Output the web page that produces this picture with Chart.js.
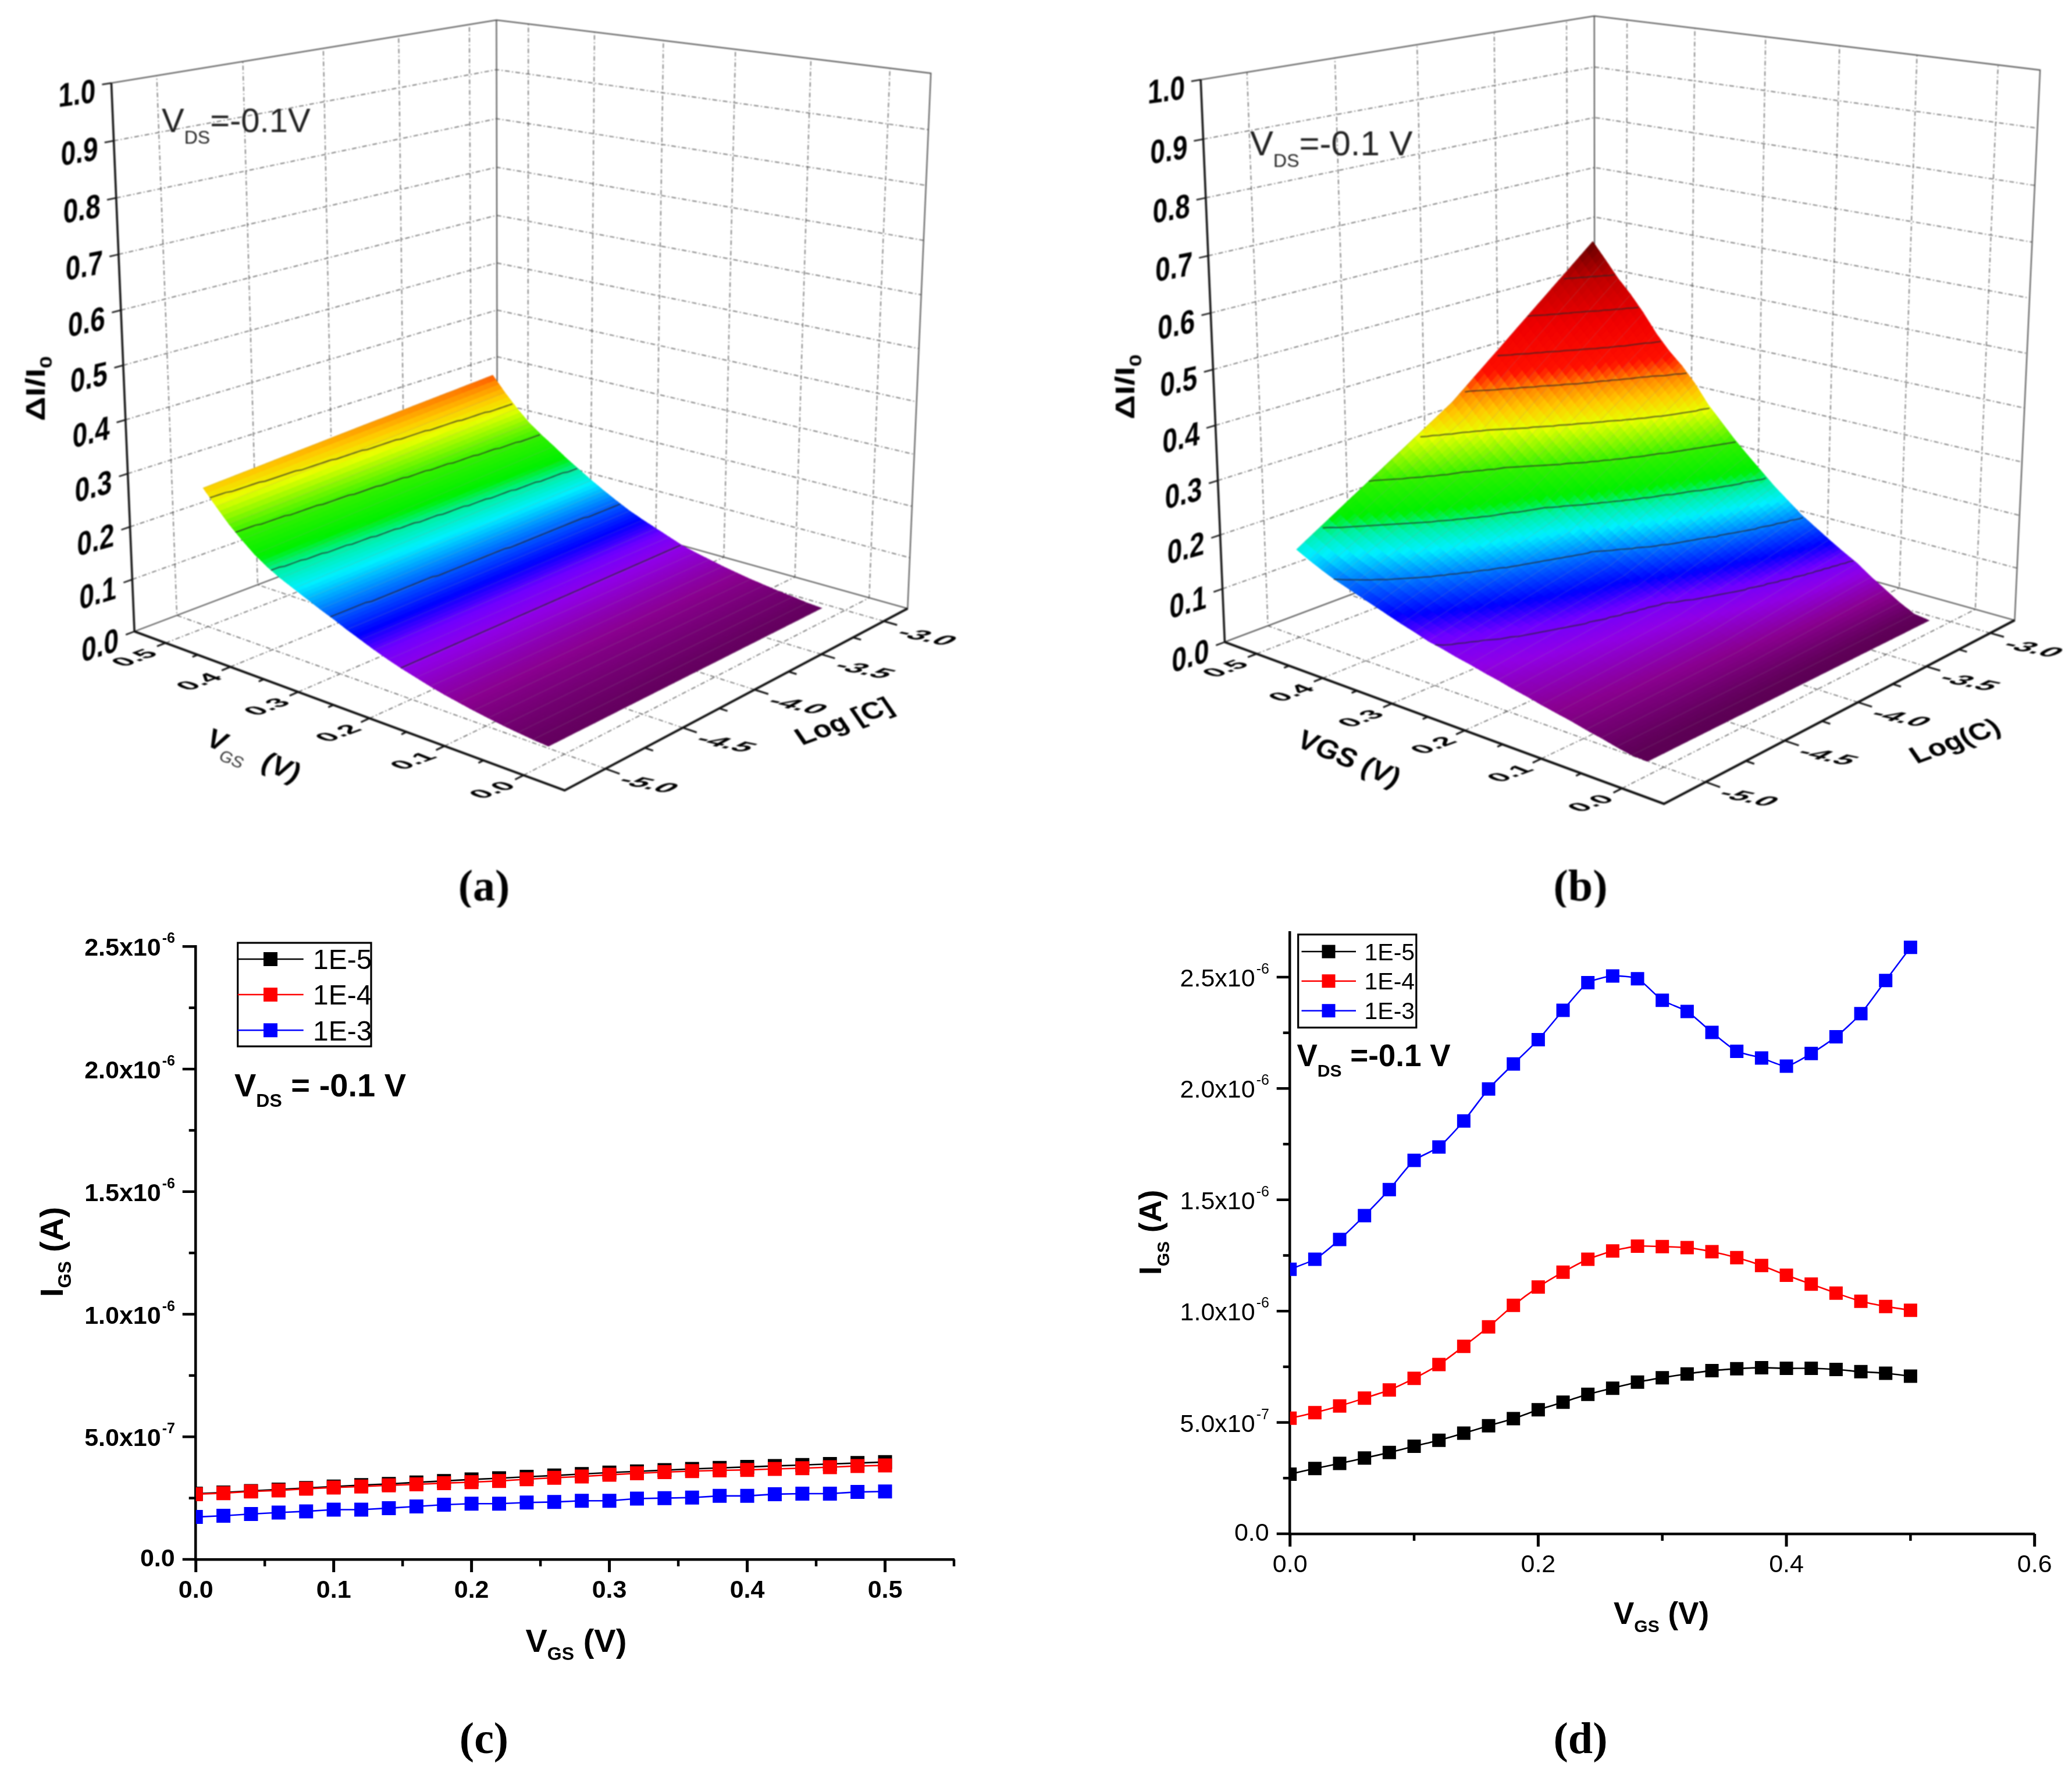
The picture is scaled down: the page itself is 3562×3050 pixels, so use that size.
<!DOCTYPE html>
<html>
<head>
<meta charset="utf-8">
<title>Delta I / I0 surfaces and IGS curves</title>
<script src="https://cdn.jsdelivr.net/npm/chart.js@4/dist/chart.umd.min.js"></script>
<style>
  html, body { margin: 0; padding: 0; background: #fff; }
  #page { position: relative; width: 3562px; height: 3050px; overflow: hidden; }
  canvas { position: absolute; }
  canvas.soft { filter: blur(0.8px); }
</style>
</head>
<body>
<div id="page">
  <canvas id="pa" class="soft" width="1780" height="1560" style="left:0;top:0"></canvas>
  <canvas id="pb" class="soft" width="1782" height="1560" style="left:1780px;top:0"></canvas>
  <canvas id="pc" width="1780" height="1490" style="left:0;top:1560px"></canvas>
  <canvas id="pd" width="1782" height="1490" style="left:1780px;top:1560px"></canvas>
</div>
<script>
// ---- data ----
const VGS_POINTS = [0,.02,.04,.06,.08,.1,.12,.14,.16,.18,.2,.22,.24,.26,.28,.3,.32,.34,.36,.38,.4,.42,.44,.46,.48,.5];
const LOG_NODES = [-5, -4, -3];

// panel (a), dI/I0 at log C = -5, -4, -3
const SURF_A_M5 = [.004,.006,.009,.012,.016,.02,.025,.03,.036,.043,.05,.058,.067,.077,.087,.098,.108,.119,.13,.141,.154,.17,.19,.212,.238,.265];
const SURF_A_M4 = [.004,.006,.01,.013,.017,.02,.025,.03,.036,.043,.05,.059,.068,.078,.089,.101,.113,.126,.139,.153,.168,.185,.204,.226,.254,.283];
const SURF_A_M3 = [.004,.006,.01,.013,.017,.021,.026,.031,.037,.043,.05,.06,.07,.08,.091,.104,.118,.133,.149,.165,.183,.2,.219,.243,.27,.3];
const CONTOURS_A = [.05,.1,.15,.2,.25];

// panel (b)
const SURF_B_M5 = [0,.001,.006,.012,.017,.023,.028,.033,.039,.044,.05,.055,.061,.066,.072,.077,.085,.092,.1,.108,.116,.124,.132,.142,.153,.165];
const SURF_B_M4 = [0,.002,.01,.019,.028,.037,.046,.055,.064,.072,.083,.094,.105,.116,.128,.143,.158,.175,.193,.212,.231,.25,.27,.295,.32,.345];
const SURF_B_M3 = [0,.004,.018,.035,.052,.071,.086,.102,.119,.136,.157,.178,.202,.226,.251,.279,.307,.342,.371,.395,.424,.459,.49,.517,.549,.58];
const CONTOURS_B = [.074,.132,.19,.246,.3,.359,.41,.468,.523];

// panels (c), (d): IGS in units of 1e-6 A
const C_1E5 = [.268,.273,.279,.285,.291,.297,.303,.308,.314,.32,.326,.331,.337,.342,.348,.354,.359,.364,.369,.373,.377,.381,.385,.389,.393,.397];
const C_1E4 = [.266,.27,.277,.281,.288,.293,.297,.302,.306,.311,.315,.32,.327,.333,.338,.345,.351,.356,.36,.363,.365,.369,.372,.376,.381,.383];
const C_1E3 = [.173,.178,.185,.191,.196,.203,.203,.209,.216,.223,.227,.227,.232,.234,.239,.239,.248,.25,.252,.259,.259,.266,.268,.268,.275,.277];
const D_1E5 = [.268,.293,.316,.34,.365,.393,.42,.452,.485,.517,.557,.591,.626,.654,.681,.701,.718,.733,.741,.746,.743,.743,.738,.728,.721,.708];
const D_1E4 = [.519,.544,.574,.609,.646,.698,.76,.842,.929,1.026,1.108,1.175,1.233,1.27,1.292,1.29,1.285,1.267,1.24,1.205,1.161,1.121,1.081,1.044,1.021,1.004];
const D_1E3 = [1.188,1.233,1.322,1.429,1.546,1.677,1.737,1.854,1.998,2.11,2.219,2.351,2.475,2.505,2.493,2.396,2.346,2.252,2.167,2.137,2.1,2.157,2.232,2.336,2.485,2.634];
const SERIES_NAMES = ['1E-5', '1E-4', '1E-3'];
const SERIES_COLORS = ['#000000', '#ff0000', '#0000ff'];

const Z_TICKS = [0,.1,.2,.3,.4,.5,.6,.7,.8,.9,1];
const VGS_TICKS = [0,.1,.2,.3,.4,.5];
const VGS_MINOR = [.05,.15,.25,.35,.45];
const LOG_TICKS = [-5,-4.5,-4,-3.5,-3];
const LOG_MINOR = [-4.75,-4.25,-3.75,-3.25];

// colour scale of the surfaces, as a fraction of the panel's top value
const RAINBOW = [[0,'#5c0054'],[.052,'#8a0090'],[.103,'#9000e6'],[.138,'#7000ff'],[.172,'#0000ff'],[.224,'#0070ff'],
  [.276,'#00f0ff'],[.319,'#00f0a0'],[.353,'#00f000'],[.422,'#30f000'],[.517,'#e8ff00'],[.569,'#ffc800'],[.62,'#ff8000'],
  [.664,'#ff1000'],[.776,'#f00000'],[.897,'#c00000'],[1,'#640000']];

// ---- helpers ----
const FAMILY = '"Liberation Sans", Arial, sans-serif';
const fontOf = (r) => (r.bold ? 'bold ' : '') + r.size + 'px ' + FAMILY;

// draws runs of text (for subscripts) from the current origin
function runsAt(ctx, runs, x, y) {
  for (const r of runs) {
    ctx.font = fontOf(r);
    ctx.fillStyle = r.color || '#000';
    ctx.fillText(r.t, x, y + (r.dy || 0));
    x += ctx.measureText(r.t).width;
  }
  return x;
}
function runsWidth(ctx, runs) {
  let w = 0;
  for (const r of runs) { ctx.font = fontOf(r); w += ctx.measureText(r.t).width; }
  return w;
}
// text in a skewed plane; anchor is centre or right of the first run's mid height
function skewText(ctx, runs, x, y, ex, ey, align) {
  ctx.save();
  ctx.transform(ex[0], ex[1], ey[0], ey[1], x, y);
  ctx.textAlign = 'left';
  ctx.textBaseline = 'alphabetic';
  const w = runsWidth(ctx, runs);
  const sx = align === 'right' ? -w : -w / 2;
  runsAt(ctx, runs, sx, runs[0].size * 0.36);
  ctx.restore();
}
function caption(ctx, t, x, y) {
  ctx.save();
  ctx.font = 'bold 76px "Liberation Serif", serif';
  ctx.fillStyle = '#000';
  ctx.textAlign = 'center';
  ctx.textBaseline = 'alphabetic';
  ctx.fillText(t, x, y);
  ctx.restore();
}

// ---- 3D projection of the box, solved from where its corners lie on the panel ----
function solveCamera(c) {
  const pts = [[0,0,0,c.L],[1,0,0,c.F],[1,1,0,c.R],[0,1,0,c.B],[0,0,1,c.Lt],[0,1,1,c.Bt],[1,1,1,c.Rt]];
  const A = [], b = [];
  for (const [u, v, z, p] of pts) {
    const X = p[0] / 1000, Y = p[1] / 1000;
    A.push([u,v,z,1,0,0,0,0,-X*u,-X*v,-X*z]); b.push(X);
    A.push([0,0,0,0,u,v,z,1,-Y*u,-Y*v,-Y*z]); b.push(Y);
  }
  const n = 11;
  const M = [];
  for (let i = 0; i < n; i++) {
    const row = [];
    for (let j = 0; j < n; j++) row.push(A.reduce((s, r) => s + r[i] * r[j], 0));
    row.push(A.reduce((s, r, k) => s + r[i] * b[k], 0));
    M.push(row);
  }
  for (let i = 0; i < n; i++) {
    let best = i;
    for (let k = i + 1; k < n; k++) if (Math.abs(M[k][i]) > Math.abs(M[best][i])) best = k;
    [M[i], M[best]] = [M[best], M[i]];
    for (let k = 0; k < n; k++) {
      if (k === i) continue;
      const f = M[k][i] / M[i][i];
      for (let j = i; j <= n; j++) M[k][j] -= f * M[i][j];
    }
  }
  const p = M.map((r, i) => r[n] / r[i]);
  return (u, v, z) => {
    const w = p[8]*u + p[9]*v + p[10]*z + 1;
    return { x: 1000 * (p[0]*u + p[1]*v + p[2]*z + p[3]) / w,
             y: 1000 * (p[4]*u + p[5]*v + p[6]*z + p[7]) / w };
  };
}

const V_MAX = .55, V_MIN = -.05, C_MIN = -5.25, C_MAX = -2.8;

function rainbow(frac) {
  frac = Math.max(0, Math.min(1, frac));
  let i = 1;
  while (i < RAINBOW.length - 1 && RAINBOW[i][0] < frac) i++;
  const [f0, c0] = RAINBOW[i - 1], [f1, c1] = RAINBOW[i];
  const t = (frac - f0) / (f1 - f0);
  const ch = (c, k) => parseInt(c.substr(1 + 2 * k, 2), 16);
  return 'rgb(' + [0, 1, 2].map(k => Math.round(ch(c0, k) + (ch(c1, k) - ch(c0, k)) * t)).join(',') + ')';
}

function surfacePanel(id, cfg) {
  const cam = solveCamera(cfg.corners);
  const P = (V, C, z) => cam((V_MAX - V) / (V_MAX - V_MIN), (C - C_MIN) / (C_MAX - C_MIN), z);
  const cols = cfg.columns;
  const lerpRow = (col, V) => {
    const s = (V - VGS_POINTS[0]) / (VGS_POINTS[VGS_POINTS.length - 1] - VGS_POINTS[0]) * (VGS_POINTS.length - 1);
    const i = Math.min(VGS_POINTS.length - 2, Math.floor(s));
    return col[i] + (col[i + 1] - col[i]) * (s - i);
  };
  const zAt = (V, C) => {
    const s = Math.max(0, Math.min(LOG_NODES.length - 1.000001, C - LOG_NODES[0]));
    const j = Math.floor(s);
    return lerpRow(cols[j], V) + (lerpRow(cols[j + 1], V) - lerpRow(cols[j], V)) * (s - j);
  };
  const vShift = cfg.vShift, cEnd = cfg.cEnd;
  // the surface sits slightly inside the nominal VGS / log C corners
  const mapV = (V) => vShift + V * (.5 - vShift) / .5;
  const mapC = (C) => -5 + (C + 5) * (cEnd + 5) / 2;

  const line = (data, color, width, dash, order) => ({
    data, showLine: true, pointRadius: 0, borderColor: color, borderWidth: width,
    borderDash: dash || [], order, tension: 0, clip: false, fill: false,
  });
  const GRID = '#585858', DASH = [8, 4, 2, 4];
  const sets = [];

  // dashed box grid
  for (const z of Z_TICKS.slice(1, -1)) {
    sets.push(line([P(V_MAX, C_MIN, z), P(V_MAX, C_MAX, z), P(V_MIN, C_MAX, z)], GRID, 1.5, DASH, 9));
  }
  for (const C of LOG_TICKS) {
    sets.push(line([P(V_MIN, C, 0), P(V_MAX, C, 0), P(V_MAX, C, 1)], GRID, 1.5, DASH, 9));
  }
  for (const V of VGS_TICKS) {
    sets.push(line([P(V, C_MIN, 0), P(V, C_MAX, 0), P(V, C_MAX, 1)], GRID, 1.5, DASH, 9));
  }
  // solid box edges
  sets.push(line([P(V_MAX, C_MIN, 1), P(V_MAX, C_MAX, 1), P(V_MIN, C_MAX, 1), P(V_MIN, C_MAX, 0), P(V_MAX, C_MAX, 0)], '#4a4a4a', 2, null, 8));
  sets.push(line([P(V_MAX, C_MIN, 0), P(V_MAX, C_MAX, 0), P(V_MAX, C_MAX, 1)], '#4a4a4a', 2, null, 8));
  sets.push(line([P(V_MAX, C_MIN, 0), P(V_MAX, C_MIN, 1)], '#111', 3.5, null, 1));
  sets.push(line([P(V_MAX, C_MIN, 0), P(V_MIN, C_MIN, 0), P(V_MIN, C_MAX, 0)], '#111', 4, null, 1));

  // surface nodes; the painter below fills the mesh between them
  const nodes = [];
  VGS_POINTS.forEach((V, i) => LOG_NODES.forEach((C, j) => nodes.push(P(mapV(V), mapC(C), cols[j][i]))));
  const surfaceSet = { data: nodes, pointRadius: 0, showLine: false, order: 5, clip: false };
  sets.push(surfaceSet);

  // contour lines
  for (const level of cfg.contours) {
    const pts = [];
    for (let k = 0; k <= 80; k++) {
      const C = -5 + 2 * k / 80;
      let prev = zAt(0, C);
      for (let i = 1; i <= 200; i++) {
        const V = .5 * i / 200, cur = zAt(V, C);
        if (prev <= level && cur > level) { pts.push(P(mapV(V), mapC(C), level)); break; }
        prev = cur;
      }
    }
    sets.push(line(pts, 'rgba(40,40,40,.78)', 2, null, 3));
  }

  // ticks
  for (const z of Z_TICKS) sets.push(line([P(V_MAX, C_MIN, z), P(V_MAX, C_MIN - .05, z)], '#111', 2.5, null, 1));
  for (const V of VGS_TICKS) sets.push(line([P(V, C_MIN, 0), P(V, C_MIN - .05, 0)], '#111', 3, null, 1));
  for (const V of VGS_MINOR) sets.push(line([P(V, C_MIN, 0), P(V, C_MIN - .03, 0)], '#111', 3, null, 1));
  for (const C of LOG_TICKS) sets.push(line([P(V_MIN, C, 0), P(V_MIN - .017, C, 0)], '#111', 3, null, 1));
  for (const C of LOG_MINOR) sets.push(line([P(V_MIN, C, 0), P(V_MIN - .01, C, 0)], '#111', 3, null, 1));

  const canvas = document.getElementById(id);
  const surfaceIndex = sets.indexOf(surfaceSet);

  const painter = {
    id: 'surfacePainter',
    afterDatasetDraw(chart, args) {
      if (args.index !== surfaceIndex) return;
      const ctx = chart.ctx, sx = chart.scales.x, sy = chart.scales.y;
      const px = (V, C, z) => { const q = P(mapV(V), mapC(C), z); return [sx.getPixelForValue(q.x), sy.getPixelForValue(q.y)]; };
      const NV = 100, NC = 40;
      ctx.save();
      ctx.lineWidth = 1.3;
      for (let i = 0; i < NV; i++) {
        const V0 = .5 * i / NV, V1 = .5 * (i + 1) / NV;
        for (let j = 0; j < NC; j++) {
          const C0 = -5 + 2 * j / NC, C1 = -5 + 2 * (j + 1) / NC;
          const z00 = zAt(V0, C0), z01 = zAt(V0, C1), z10 = zAt(V1, C0), z11 = zAt(V1, C1);
          const col = rainbow((z00 + z01 + z10 + z11) / 4 / cfg.zTop);
          const a = px(V0, C0, z00), b = px(V0, C1, z01), c = px(V1, C1, z11), d = px(V1, C0, z10);
          ctx.beginPath();
          ctx.moveTo(a[0], a[1]); ctx.lineTo(b[0], b[1]); ctx.lineTo(c[0], c[1]); ctx.lineTo(d[0], d[1]);
          ctx.closePath();
          ctx.fillStyle = col; ctx.strokeStyle = col;
          ctx.fill(); ctx.stroke();
        }
      }
      // faint streaks on the surface
      ctx.lineWidth = 1.2;
      ctx.strokeStyle = 'rgba(150,150,150,.22)';
      for (let i = 0; i < VGS_POINTS.length; i += 1) {
        ctx.beginPath();
        LOG_NODES.forEach((C, j) => {
          const q = px(VGS_POINTS[i], C, cols[j][i]);
          if (j === 0) ctx.moveTo(q[0], q[1]); else ctx.lineTo(q[0], q[1]);
        });
        ctx.stroke();
      }
      ctx.restore();
    },
    afterDraw(chart) {
      const ctx = chart.ctx, sx = chart.scales.x, sy = chart.scales.y;
      const at = (q) => [sx.getPixelForValue(q.x), sy.getPixelForValue(q.y)];
      // z tick labels lie in the left wall
      for (const z of Z_TICKS) {
        const a = P(V_MAX, C_MIN, z), b = P(V_MAX, C_MIN + .3, z);
        const slope = (b.y - a.y) / (b.x - a.x) * .85;
        const [x, y] = at(a);
        skewText(ctx, [{ t: z.toFixed(1), size: 46, bold: true }], x - 27, y + 12, [1, slope], [-.03, 1.25], 'right');
      }
      for (const V of VGS_TICKS) {
        const [x, y] = at(P(V, C_MIN, 0));
        skewText(ctx, [{ t: V.toFixed(1), size: 42, bold: true }], x - 55, y + 25, [1.05, -.38], [.9, .36], 'center');
      }
      for (const C of LOG_TICKS) {
        const [x, y] = at(P(V_MIN, C, 0));
        skewText(ctx, [{ t: C.toFixed(1), size: 40, bold: true }], x + 75, y + 26, [1.3, .27], [-.92, .5], 'center');
      }
      for (const t of cfg.floorTitles) skewText(ctx, t.runs, t.x, t.y, t.ex, t.ey, 'center');

      // dI/I0 title
      ctx.save();
      ctx.translate(cfg.zTitle.x, cfg.zTitle.y);
      ctx.rotate(-Math.PI / 2);
      ctx.scale(1.27, 1);
      ctx.textAlign = 'left';
      ctx.textBaseline = 'alphabetic';
      runsAt(ctx, [{ t: '\u0394I/I', size: 46, bold: true }, { t: '0', size: 30, bold: true, dy: 12 }], 0, 0);
      ctx.restore();

      // VDS note
      ctx.save();
      ctx.textAlign = 'left';
      ctx.textBaseline = 'alphabetic';
      runsAt(ctx, cfg.note.runs, cfg.note.x, cfg.note.y);
      ctx.restore();
      caption(ctx, cfg.caption.t, cfg.caption.x, cfg.caption.y);
    },
  };

  return new Chart(canvas, {
    type: 'scatter',
    data: { datasets: sets },
    options: {
      responsive: false, animation: false, devicePixelRatio: 1, events: [],
      layout: { padding: 0 },
      plugins: { legend: { display: false }, tooltip: { enabled: false } },
      scales: {
        x: { type: 'linear', display: false, min: 0, max: canvas.width },
        y: { type: 'linear', display: false, min: 0, max: canvas.height, reverse: true },
      },
    },
    plugins: [painter],
  });
}

function xyPanel(id, cfg) {
  const canvas = document.getElementById(id);
  const sets = cfg.series.map((vals, i) => ({
    label: SERIES_NAMES[i],
    data: vals.map((y, k) => ({ x: VGS_POINTS[k], y })),
    showLine: true,
    borderColor: SERIES_COLORS[i], backgroundColor: SERIES_COLORS[i],
    borderWidth: 2.6, tension: cfg.tension,
    pointStyle: 'rect', pointRadius: cfg.marker / Math.SQRT2, pointBorderWidth: 0,
    order: 3 - i,
  }));
  const axisPlugin = {
    id: 'originAxes',
    afterDraw(chart) {
      const ctx = chart.ctx, sx = chart.scales.x, sy = chart.scales.y;
      const x0 = chart.chartArea.left, y0 = chart.chartArea.bottom;
      ctx.save();
      ctx.strokeStyle = '#000';
      ctx.fillStyle = '#000';
      ctx.lineCap = 'butt';
      for (const t of sx.ticks) {
        const major = cfg.xMajor(t.value);
        const p = sx.getPixelForValue(t.value);
        ctx.lineWidth = major ? 5 : 4.5;
        ctx.beginPath(); ctx.moveTo(p, y0); ctx.lineTo(p, y0 + (major ? 22 : 12)); ctx.stroke();
      }
      ctx.textBaseline = 'alphabetic';
      for (const t of sy.ticks) {
        const major = Math.round(t.value * 100) % 50 === 0;
        const p = sy.getPixelForValue(t.value);
        ctx.lineWidth = 4.5;
        ctx.beginPath(); ctx.moveTo(x0, p); ctx.lineTo(x0 - (major ? 23 : 12), p); ctx.stroke();
        if (!major) continue;
        const mono = cfg.bold ? 'bold ' : '';
        if (t.value === 0) {
          ctx.textAlign = 'right';
          ctx.font = mono + '43px ' + FAMILY;
          ctx.fillText('0.0', x0 - 36, p + 12);
        } else {
          const small = t.value < 1;
          ctx.textAlign = 'right';
          ctx.font = mono + '43px ' + FAMILY;
          ctx.fillText((small ? t.value * 10 : t.value).toFixed(1) + 'x10', x0 - 60, p + 16);
          ctx.textAlign = 'left';
          ctx.font = mono + '25px ' + FAMILY;
          ctx.fillText(small ? '-7' : '-6', x0 - 58, p - 6);
        }
      }
      // axis titles
      ctx.textAlign = 'left';
      const big = cfg.titleSize, sub = cfg.titleSub;
      runsAt(ctx, [{ t: 'V', size: big, bold: true }, { t: 'GS', size: sub, bold: true, dy: 14 }, { t: ' (V)', size: big, bold: true }], cfg.xTitle[0], cfg.xTitle[1]);
      ctx.save();
      ctx.translate(cfg.yTitle[0], cfg.yTitle[1]);
      ctx.rotate(-Math.PI / 2);
      runsAt(ctx, [{ t: 'I', size: big, bold: true }, { t: 'GS', size: sub, bold: true, dy: 14 }, { t: ' (A)', size: big, bold: true }], 0, 0);
      ctx.restore();
      // legend
      const L = cfg.legend;
      ctx.lineWidth = 3.2;
      ctx.strokeRect(L.x0, L.y0, L.x1 - L.x0, L.y1 - L.y0);
      ctx.font = L.font + 'px ' + FAMILY;
      SERIES_NAMES.forEach((name, i) => {
        const y = L.rows[i];
        ctx.strokeStyle = SERIES_COLORS[i];
        ctx.lineWidth = 2.6;
        ctx.beginPath(); ctx.moveTo(L.lineFrom, y); ctx.lineTo(L.lineTo, y); ctx.stroke();
        ctx.fillStyle = SERIES_COLORS[i];
        ctx.fillRect(L.mark - cfg.marker / 2, y - cfg.marker / 2, cfg.marker, cfg.marker);
        ctx.fillStyle = '#000';
        ctx.fillText(name, L.text, y + L.font * .36);
      });
      // VDS note
      runsAt(ctx, cfg.note.runs, cfg.note.x, cfg.note.y);
      caption(ctx, cfg.caption.t, cfg.caption.x, cfg.caption.y);
      ctx.restore();
    },
  };
  return new Chart(canvas, {
    type: 'scatter',
    data: { datasets: sets },
    options: {
      responsive: false, animation: false, devicePixelRatio: 1, events: [],
      layout: { padding: cfg.padding },
      plugins: { legend: { display: false }, tooltip: { enabled: false } },
      scales: {
        x: {
          type: 'linear', min: cfg.xMin, max: cfg.xMax,
          grid: { drawOnChartArea: false, drawTicks: false },
          border: { display: true, width: 4.5, color: '#000' },
          // the band under the plot is fixed, so the plot area stays where it belongs
          afterFit(s) { s.height = cfg.bottomBand; },
          ticks: {
            stepSize: cfg.xStep, autoSkip: false, maxRotation: 0, color: '#000', padding: cfg.xLabelPad,
            font: { family: FAMILY, size: 43, weight: cfg.bold ? 'bold' : 'normal' },
            callback: (v) => cfg.xLabelled(v) ? v.toFixed(1) : '',
          },
        },
        y: {
          type: 'linear', min: 0, max: cfg.yMax,
          grid: { drawOnChartArea: false, drawTicks: false },
          border: { display: true, width: 4.5, color: '#000' },
          ticks: { display: false, stepSize: .25, includeBounds: false },
        },
      },
    },
    plugins: [axisPlugin],
  });
}

// ---- panels ----
surfacePanel('pa', {
  columns: [SURF_A_M5, SURF_A_M4, SURF_A_M3], contours: CONTOURS_A, zTop: .47, vShift: .02, cEnd: -3.07,
  corners: { L: [232,1087], F: [970,1358], R: [1561,1047], B: [854,848], Lt: [191,142], Bt: [854,35], Rt: [1600,126] },
  floorTitles: [
    { runs: [{ t: 'V', size: 46, bold: true }, { t: 'GS', size: 27, color: '#333', dy: 14 }, { t: '  (V)', size: 46, bold: true }], x: 437, y: 1298, ex: [1, .42], ey: [-.5, .9] },
    { runs: [{ t: 'Log [C]', size: 46, bold: true }], x: 1450, y: 1239, ex: [1, -.37], ey: [.55, .8] },
  ],
  zTitle: { x: 77, y: 724 },
  note: { x: 278, y: 227, runs: [{ t: 'V', size: 58, color: '#222' }, { t: 'DS', size: 32, color: '#222', dy: 20 }, { t: '=-0.1V', size: 58, color: '#222' }] },
  caption: { t: '(a)', x: 832, y: 1548 },
});
surfacePanel('pb', {
  columns: [SURF_B_M5, SURF_B_M4, SURF_B_M3], contours: CONTOURS_B, zTop: .58, vShift: .02, cEnd: -3.05,
  corners: { L: [326,1103], F: [1080,1383], R: [1684,1065], B: [961,866], Lt: [284,137], Bt: [961,27], Rt: [1727,121] },
  floorTitles: [
    { runs: [{ t: 'VGS (V)', size: 46, bold: true }], x: 540, y: 1303, ex: [1, .42], ey: [-.5, .9] },
    { runs: [{ t: 'Log(C)', size: 46, bold: true }], x: 1580, y: 1273, ex: [1, -.37], ey: [.55, .8] },
  ],
  zTitle: { x: 170, y: 721 },
  note: { x: 369, y: 267, runs: [{ t: 'V', size: 60, color: '#222' }, { t: 'DS', size: 32, color: '#222', dy: 20 }, { t: '=-0.1 V', size: 60, color: '#222' }] },
  caption: { t: '(b)', x: 937, y: 1548 },
});
xyPanel('pc', {
  series: [C_1E5, C_1E4, C_1E3], tension: 0, marker: 24, bold: true,
  padding: { left: 336.7, right: 140, top: 67.3, bottom: 0 }, bottomBand: 369,
  xMin: 0, xMax: .55, xStep: .05, yMax: 2.5, xLabelPad: 28,
  xMajor: (v) => Math.round(v * 100) % 10 === 0,
  xLabelled: (v) => Math.round(v * 100) % 10 === 0,
  titleSize: 56, titleSub: 32, xTitle: [903.5, 1280], yTitle: [108, 670],
  legend: { x0: 408.7, x1: 638, y0: 61, y1: 239, rows: [89, 150, 211.3], lineFrom: 408.7, lineTo: 521.7, mark: 465, text: 538, font: 48 },
  note: { x: 403, y: 325, runs: [{ t: 'V', size: 56, bold: true }, { t: 'DS', size: 32, bold: true, dy: 18 }, { t: ' = -0.1 V', size: 56, bold: true }] },
  caption: { t: '(c)', x: 832, y: 1454 },
});
xyPanel('pd', {
  series: [D_1E5, D_1E4, D_1E3], tension: .2, marker: 23, bold: false,
  padding: { left: 437.7, right: 64.3, top: 43.4, bottom: 0 }, bottomBand: 413,
  xMin: 0, xMax: .6, xStep: .1, yMax: 2.7, xLabelPad: 28,
  xMajor: (v) => Math.round(v * 100) % 20 === 0,
  xLabelled: (v) => Math.round(v * 100) % 20 === 0,
  titleSize: 53, titleSub: 30, xTitle: [994, 1232], yTitle: [216, 632],
  legend: { x0: 451.7, x1: 654.8, y0: 46.7, y1: 206.7, rows: [76, 126.7, 177.7], lineFrom: 457.5, lineTo: 551, mark: 504, text: 565.5, font: 41 },
  note: { x: 449.5, y: 273, runs: [{ t: 'V', size: 53, bold: true }, { t: 'DS', size: 30, bold: true, dy: 18 }, { t: ' =-0.1 V', size: 53, bold: true }] },
  caption: { t: '(d)', x: 937, y: 1454 },
});
</script>
</body>
</html>
